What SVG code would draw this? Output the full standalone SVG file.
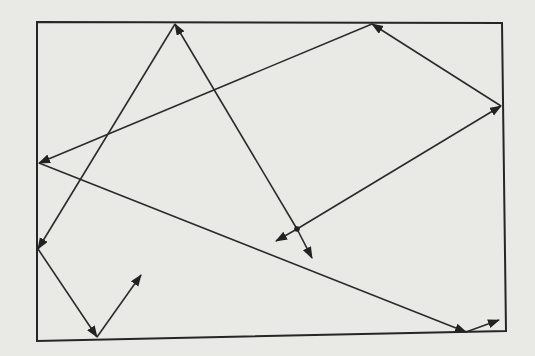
<svg xmlns="http://www.w3.org/2000/svg" width="535" height="356" viewBox="0 0 535 356">
<style>
.frame{fill:none;stroke:#262626;stroke-width:2}
.ray{fill:none;stroke:#2b2b2b;stroke-width:1.6;marker-end:url(#ah)}
</style>
<defs>
<marker id="ah" markerUnits="userSpaceOnUse" markerWidth="12" markerHeight="10" refX="11" refY="4.5" orient="auto">
<path d="M0,0 L12,4.5 L0,9 z" fill="#222"/>
</marker>
</defs>
<rect width="535" height="356" fill="#e9e9e6"/>
<polygon class="frame" points="37,22 502,23 506,331 37,341"/>
<g id="connectors">
<line class="ray" x1="297" y1="229" x2="501" y2="106"/>
<line class="ray" x1="501" y1="106" x2="372" y2="24"/>
<line class="ray" x1="372" y1="24" x2="39" y2="163"/>
<line class="ray" x1="39" y1="163" x2="466" y2="332"/>
<line class="ray" x1="466" y1="332" x2="499" y2="320"/>
<line class="ray" x1="297" y1="229" x2="175" y2="24"/>
<line class="ray" x1="175" y1="24" x2="38" y2="249"/>
<line class="ray" x1="38" y1="249" x2="97" y2="337"/>
<line class="ray" x1="97" y1="337" x2="141" y2="275"/>
<line class="ray" x1="297" y1="229" x2="276" y2="241"/>
<line class="ray" x1="297" y1="229" x2="312" y2="258"/>
</g>
<circle cx="297" cy="229" r="2.8" fill="#222"/>
</svg>
